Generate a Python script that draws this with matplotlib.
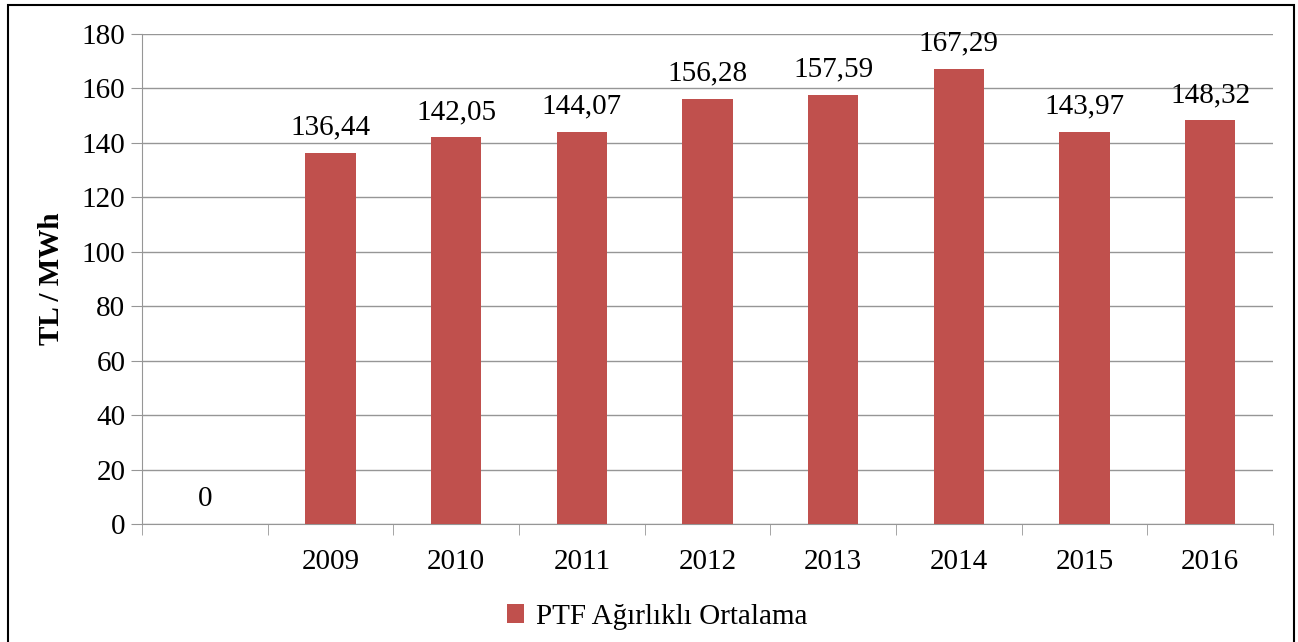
import matplotlib.pyplot as plt
import numpy as np
from matplotlib.patches import Rectangle

categories = ['', '2009', '2010', '2011', '2012', '2013', '2014', '2015', '2016']
values = [0, 136.44, 142.05, 144.07, 156.28, 157.59, 167.29, 143.97, 148.32]
labels = ['0', '136,44', '142,05', '144,07', '156,28', '157,59', '167,29', '143,97', '148,32']

plt.rcParams['font.family'] = ['Liberation Serif', 'DejaVu Serif']
fs = 21

fig = plt.figure(figsize=(12.98, 6.42), dpi=100)
ax = fig.add_axes([142/1298, 1-524/642, (1273-142)/1298, (524-34)/642])

x = np.arange(len(categories))
ax.bar(x, values, width=0.4, color='#C0504D', zorder=3, label='PTF Ağırlıklı Ortalama')

for xi, v, t in zip(x, values, labels):
    ax.text(xi, v + 4.5, t, ha='center', va='bottom', fontsize=fs)

ax.set_xlim(-0.5, len(categories) - 0.5)
ax.set_ylim(0, 180)
ax.set_yticks(np.arange(0, 181, 20))
ax.yaxis.grid(True, color='#969696', lw=1)
ax.set_axisbelow(True)

ax.spines['right'].set_visible(False)
ax.spines['top'].set_visible(False)
ax.spines['left'].set_color('#969696')
ax.spines['bottom'].set_color('#969696')

# category labels centered, tick marks at boundaries
ax.set_xticks(x)
ax.set_xticklabels(categories, fontsize=fs)
ax.tick_params(axis='x', length=0, pad=18)
ax.set_xticks(np.arange(-0.5, len(categories)), minor=True)
ax.tick_params(axis='x', which='minor', length=8, color='#969696', direction='out')
ax.tick_params(axis='y', length=8, color='#969696', labelsize=fs, pad=4)

ax.set_ylabel('TL / MWh', fontsize=fs, fontweight='bold', labelpad=12)

ax.legend(loc='center', bbox_to_anchor=(657/1298, 1-617/642), bbox_transform=fig.transFigure,
          frameon=False, fontsize=fs, handlelength=0.6, handleheight=0.6, handletextpad=0.4)

fig.patches.append(Rectangle((8/1298, -0.01), (1294-8)/1298, 1-5/642 + 0.01,
                             transform=fig.transFigure, fill=False, edgecolor='black', lw=1.5))

fig.savefig('out.png', dpi=100)
